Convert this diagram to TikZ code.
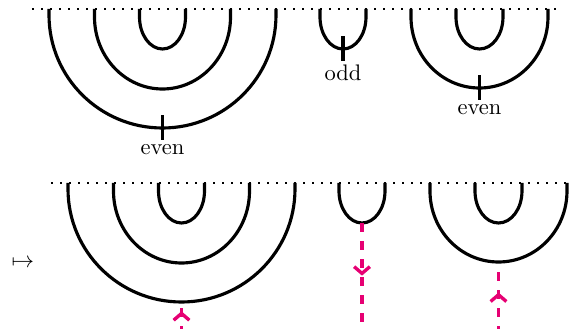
\documentclass[tikz,border=0pt]{standalone}
\usepackage{amsmath,amssymb}
\usepackage{xcolor}
\usetikzlibrary{arrows.meta}
\usetikzlibrary{decorations.markings, positioning}

\definecolor{cutpink}{RGB}{230,0,115}

\tikzset{
    strand/.style={line width=1.4pt},
    boundary/.style={line width=1pt, dash pattern=on 1pt off 3pt},
    cutline/.style={draw=cutpink, line width=1.5pt, dash pattern=on 3.8pt off 4.2pt},
    midarrow/.style={postaction={decorate, decoration={markings,
        mark=at position #1 with {\arrow[cutpink, solid, line width=1.5pt]{Straight Barb[length=3pt, width=7pt]}}}}},
    parity/.style={inner sep=1.5pt, font=\normalsize}
}

% cup hanging from the boundary: centre x, top y, x radius, depth, y radius
\newcommand{\drawcupat}[5]{%
    \draw[strand] (#1-#3,#2) -- ++(0,#5-#4)
        arc[start angle=180, end angle=360, x radius=#3, y radius=#5] -- (#1+#3,#2);}

\begin{document}
\begin{tikzpicture}[x=0.4444pt, y=0.4444pt]
    \useasboundingbox (0,0) rectangle (572,-329);

    % top row
    \coordinate (topL) at (32,-9);
    \coordinate (topR) at (562,-9);
    \draw[boundary] (topL) -- (topR);
    \drawcupat{162.5}{-9}{113.5}{119}{113}
    \drawcupat{162.5}{-9}{68}{80}{72}
    \drawcupat{162.5}{-9}{23}{40}{32}
    \drawcupat{343}{-9}{23}{40}{32}
    \drawcupat{479.5}{-9}{68.5}{79}{71}
    \drawcupat{479.5}{-9}{23.5}{40}{32}

    \coordinate (tickAu) at (162.5,-115.5);
    \coordinate (tickAd) at (162.5,-140.5);
    \coordinate (tickBu) at (343,-36.5);
    \coordinate (tickBd) at (343,-61.5);
    \coordinate (tickCu) at (479.5,-75.5);
    \coordinate (tickCd) at (479.5,-100.5);
    \draw[strand] (tickAu) -- (tickAd);
    \draw[strand] (tickBu) -- (tickBd);
    \draw[strand] (tickCu) -- (tickCd);
    \node[parity, below=0pt of tickAd] (labA) {even};
    \node[parity, below=0pt of tickBd] (labB) {odd};
    \node[parity, below=0pt of tickCd] (labC) {even};

    % bottom row
    \node (maps) at (23,-263) {\(\mapsto\)};
    \coordinate (botL) at (51,-183);
    \coordinate (botR) at (581,-183);
    \draw[boundary] (botL) -- (botR);
    \drawcupat{181.5}{-183}{113.5}{119}{113}
    \drawcupat{181.5}{-183}{68}{80}{72}
    \drawcupat{181.5}{-183}{23}{40}{32}
    \drawcupat{362}{-183}{23}{40}{32}
    \drawcupat{498.5}{-183}{68.5}{79}{71}
    \drawcupat{498.5}{-183}{23.5}{40}{32}

    \coordinate (cutAu) at (181.5,-302);
    \coordinate (cutAd) at (181.5,-335);
    \coordinate (cutBu) at (362,-223);
    \coordinate (cutBd) at (362,-335);
    \coordinate (cutCu) at (498.5,-263);
    \coordinate (cutCd) at (498.5,-335);
    \draw[cutline, midarrow=0.72] (cutAd) -- (cutAu);
    \draw[cutline, midarrow=0.47] (cutBu) -- (cutBd);
    \draw[cutline, midarrow=0.59] (cutCd) -- (cutCu);
\end{tikzpicture}
\end{document}
